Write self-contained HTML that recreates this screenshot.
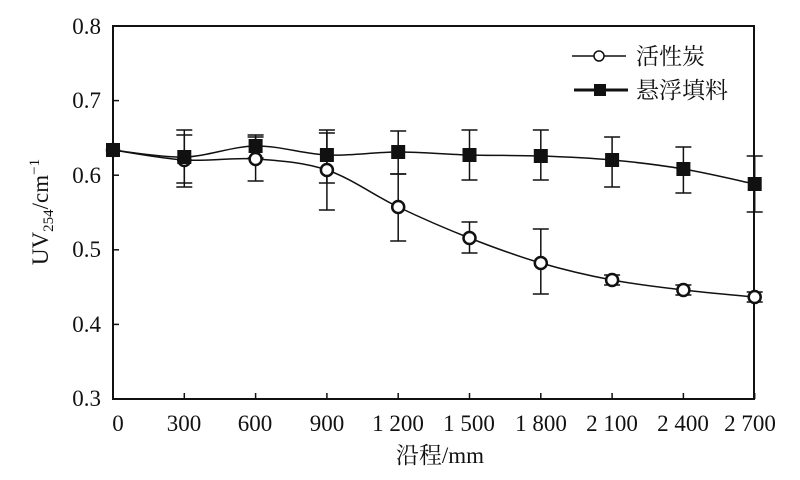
<!DOCTYPE html>
<html><head><meta charset="utf-8"><style>
html,body{margin:0;padding:0;background:#fff;}
svg{display:block;}
text{font-family:"Liberation Serif","Noto Serif CJK SC",serif;fill:#111;}
</style></head><body>
<svg id="s" width="800" height="480" viewBox="0 0 800 480" xmlns="http://www.w3.org/2000/svg">
<rect x="113" y="26" width="641" height="373" fill="none" stroke="#111" stroke-width="2"/>
<g stroke="#111" stroke-width="1.5">
<line x1="113" y1="100.6" x2="119" y2="100.6"/><line x1="113" y1="175.2" x2="119" y2="175.2"/>
<line x1="113" y1="249.8" x2="119" y2="249.8"/><line x1="113" y1="324.4" x2="119" y2="324.4"/>
</g>
<g id="xt" stroke="#111" stroke-width="1.5"></g>
<g font-size="23" text-anchor="end">
<text x="101" y="34">0.8</text><text x="101" y="108">0.7</text><text x="101" y="183">0.6</text>
<text x="101" y="257">0.5</text><text x="101" y="332">0.4</text><text x="101" y="406">0.3</text>
</g>
<g font-size="23" text-anchor="middle">
<text x="118" y="431">0</text><text x="184" y="431">300</text><text x="255" y="431">600</text>
<text x="327" y="431">900</text><text x="398" y="431">1 200</text><text x="469" y="431">1 500</text>
<text x="541" y="431">1 800</text><text x="612" y="431">2 100</text><text x="683" y="431">2 400</text>
<text x="750" y="431">2 700</text>
</g>
<text x="440" y="463" font-size="23" text-anchor="middle">沿程/mm</text>
<text transform="translate(48,212) rotate(-90)" font-size="23" text-anchor="middle">UV<tspan font-size="15" dy="5">254</tspan><tspan dy="-5">/cm</tspan><tspan font-size="15" dy="-9">−1</tspan></text>
<g id="plot"></g>
<line x1="572" y1="56" x2="626" y2="56" stroke="#111" stroke-width="1.5"/>
<circle cx="599" cy="56" r="5" fill="#fff" stroke="#111" stroke-width="1.5"/>
<text x="636" y="64" font-size="23">活性炭</text>
<line x1="574" y1="90" x2="628" y2="90" stroke="#111" stroke-width="3"/>
<rect x="594" y="84" width="12" height="12" fill="#111"/>
<text x="636" y="98" font-size="23">悬浮填料</text>
</svg>
<script>
var xs=[],i;for(i=0;i<10;i++)xs.push(113+i*71.3);
var xt=document.getElementById('xt');
for(i=1;i<10;i++){xt.innerHTML+='<line x1="'+xs[i]+'" y1="399" x2="'+xs[i]+'" y2="393"/>';}
var c=[150,160,159,170,207,238,263,280,290,297];
var q=[150,157,146,155,152,155,156,160,169,184];
var cE=[[150,150],[135,183],[137,181],[133,210],[174,241],[222,253],[229,294],[275,285],[285,295],[292,302]];
var qE=[[150,150],[130,187],[135,158],[130,183],[131,174],[130,180],[130,180],[137,187],[147,193],[156,212]];
function path(y){var d='M'+xs[0]+','+y[0];for(var k=0;k<y.length-1;k++){var p0=[xs[Math.max(k-1,0)],y[Math.max(k-1,0)]],p1=[xs[k],y[k]],p2=[xs[k+1],y[k+1]],p3=[xs[Math.min(k+2,9)],y[Math.min(k+2,9)]];
d+=' C'+(p1[0]+(p2[0]-p0[0])/6)+','+(p1[1]+(p2[1]-p0[1])/6)+' '+(p2[0]-(p3[0]-p1[0])/6)+','+(p2[1]-(p3[1]-p1[1])/6)+' '+p2[0]+','+p2[1];}return d;}
var h='';
function eb(E){for(var k=1;k<10;k++){var x=xs[k],a=E[k][0],b=E[k][1];h+='<line x1="'+x+'" y1="'+a+'" x2="'+x+'" y2="'+b+'" stroke="#111" stroke-width="1.5"/><line x1="'+(x-8)+'" y1="'+a+'" x2="'+(x+8)+'" y2="'+a+'" stroke="#111" stroke-width="1.5"/><line x1="'+(x-8)+'" y1="'+b+'" x2="'+(x+8)+'" y2="'+b+'" stroke="#111" stroke-width="1.5"/>';}}
eb(cE);eb(qE);
h+='<path d="'+path(c)+'" fill="none" stroke="#111" stroke-width="1.5"/>';
h+='<path d="'+path(q)+'" fill="none" stroke="#111" stroke-width="1.5"/>';
for(i=0;i<10;i++)h+='<circle cx="'+xs[i]+'" cy="'+c[i]+'" r="6" fill="#fff" stroke="#111" stroke-width="2.5"/>';
for(i=0;i<10;i++)h+='<rect x="'+(xs[i]-7)+'" y="'+(q[i]-7)+'" width="14" height="14" fill="#111"/>';
document.getElementById('plot').innerHTML=h;
</script>
</body></html>
